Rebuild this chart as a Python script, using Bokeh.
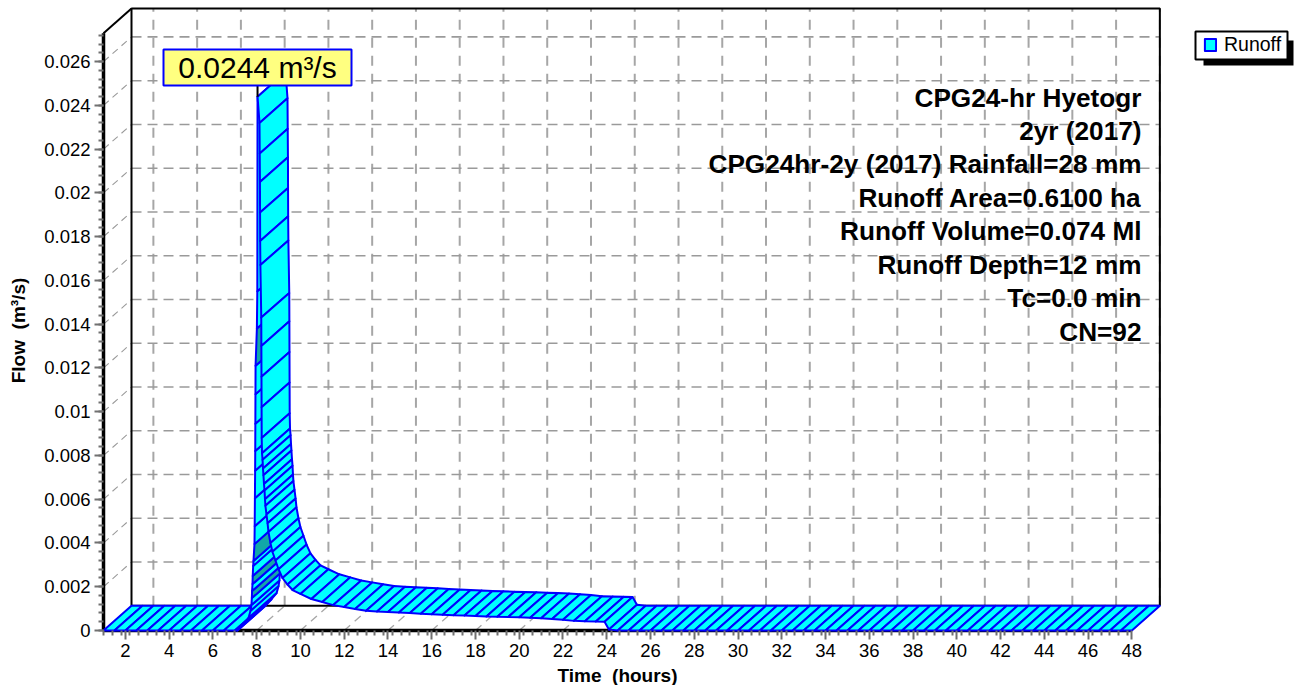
from math import pi
from bokeh.plotting import figure
from bokeh.embed import file_html
from bokeh.resources import INLINE
from bokeh.models import Range1d, FixedTicker, Legend, LegendItem, ColumnDataSource
from bokeh.core.properties import value

# ---------- data ----------
flat_t = [1, 1.5, 2, 2.5, 3, 3.5, 4, 4.5, 5, 5.5, 6, 6.5, 7, 7.12]
flat_q = [0] * len(flat_t)
rise_t = [7.4, 7.63, 7.72, 7.76, 7.78, 7.79, 7.81, 7.82, 7.84, 7.855, 7.9, 7.91, 7.92,
          7.93, 7.935, 7.94, 7.945, 7.95, 8.01, 8.03, 8.04]
rise_q = [.0003, .00058, .0009, .00116, .00148, .0018, .00212, .00249, .00295, .00318, .00395,
          .00477, .00605, .0073, .0082, .00945, .0108, .0121, .0138, .0155, .0244]
# steps of the rising limb that the reference shows in the darker shade (counted from flat end)
rise_dark = [5, 7, 10, 18]
fall_t = [8.13, 8.14, 8.15, 8.155, 8.16, 8.17, 8.21, 8.215, 8.22, 8.225, 8.23, 8.245, 8.27, 8.29,
          8.31, 8.335, 8.36, 8.38, 8.4, 8.45, 8.5, 8.54, 8.63, 8.72, 8.86, 9.0, 9.18, 9.41, 9.64,
          10, 10.5, 11, 11.5, 12, 12.5, 13, 13.5, 14, 14.5, 15, 15.5, 16, 16.5, 17, 17.5, 18,
          18.5, 19, 19.5, 20, 20.5, 21, 21.5, 22, 22.5, 23, 23.5, 23.9, 24.1]
fall_q = [.0232, .0218, .0205, .0191, .0178, .0167, .0143, .013, .0116, .0102, .0088, .0081, .0078,
          .0074, .0071, .0067, .0064, .006, .0057, .0053, .0049, .0045, .004, .0036, .0032, .0028,
          .0024, .0021, .00185, .00167, .00144, .0013, .00116, .00107, .00098, .0009, .00087,
          .00085, .00082, .0008, .00077, .00074, .00072, .0007, .00068, .00066, .00064, .00063,
          .00062, .0006, .00058, .00056, .00053, .00049, .00044, .00042, .00041, .0004, .00005]
end_t = [24.5 + 0.5 * i for i in range(48)]
end_q = [0] * len(end_t)

x_ticks = list(range(2, 49, 2))
y_ticks = [0, .002, .004, .006, .008, .01, .012, .014, .016, .018, .02, .022, .024, .026]
y_tick_labels = ["0", "0.002", "0.004", "0.006", "0.008", "0.01", "0.012", "0.014", "0.016",
                 "0.018", "0.02", "0.022", "0.024", "0.026"]
info_lines = ["CPG24-hr Hyetogr", "2yr (2017)", "CPG24hr-2y (2017) Rainfall=28 mm",
              "Runoff Area=0.6100 ha", "Runoff Volume=0.074 Ml", "Runoff Depth=12 mm",
              "Tc=0.0 min", "CN=92"]
peak_label = "0.0244 m³/s"
series_name = "Runoff"
x_title = "Time\u00a0\u00a0(hours)"
y_title = "Flow\u00a0\u00a0(m³/s)"

# ---------- geometry ----------
W, H = 1294, 685
LEFT, BOTTOM = 103, 55            # front-wall corner on the page
PX_X, PX_Y = 21.88, 21880.0       # px per hour, px per m3/s
DX, DY = 28 / PX_X, 24.7 / PX_Y   # depth offset of the pseudo-3D back wall
T_MAX, Q_TOP = 48, .0273


def tx(px):
    return 1 + (px - LEFT) / PX_X


def qy(py):
    return (H - BOTTOM - py) / PX_Y


p = figure(width=W, height=H, output_backend="svg", toolbar_location=None,
           x_range=Range1d(tx(0), tx(W)), y_range=Range1d(qy(H), qy(0)),
           min_border_left=0, min_border_right=0, min_border_top=0, min_border_bottom=0,
           outline_line_color=None)
p.grid.visible = False
p.background_fill_color = "white"

FONT = "Liberation Sans"
# axes pinned at the front edges of the box
xa, ya = p.xaxis[0], p.yaxis[0]
xa.fixed_location = 0
ya.fixed_location = 1
xa.ticker = FixedTicker(ticks=x_ticks, minor_ticks=[1 + .4 * i for i in range(118) if 1 + .4 * i <= 48])
ya.ticker = FixedTicker(ticks=y_ticks, minor_ticks=[.0004 * i for i in range(69)])
ya.major_label_overrides = dict(zip(y_ticks, y_tick_labels))
for a in (xa, ya):
    a.axis_line_color = None
    a.major_tick_line_color = "#707070"
    a.minor_tick_line_color = "#707070"
    a.major_tick_line_width = 2
    a.minor_tick_line_width = 2
    a.major_tick_in = 0
    a.minor_tick_in = 0
    a.major_tick_out = 9
    a.minor_tick_out = 5
    a.major_label_text_font = FONT
    a.major_label_text_font_size = "18.5px"
    a.major_label_text_color = "black"
xa.major_label_standoff = 4
ya.major_label_standoff = 4

# axis titles (the reference centres them on the front wall)
p.text([tx(617)], [qy(675)], text=[x_title], text_align="center", text_baseline="middle",
       text_font=value(FONT), text_font_style="bold", text_font_size="19px", text_color="black")
p.text([tx(18)], [qy(330)], text=[y_title], angle=pi / 2, text_align="center", text_baseline="middle",
       text_font=value(FONT), text_font_style="bold", text_font_size="19px", text_color="black")

# back-wall grid
GRID = "#a6a6a6"
for t in x_ticks:
    p.line([t + DX, t + DX], [DY, Q_TOP + DY], line_color=GRID, line_width=2, line_dash="10 8")
    p.line([t, t + DX], [0, DY], line_color=GRID, line_width=1.3, line_dash="8 6")
for q in y_ticks[1:]:
    p.line([1 + DX, T_MAX + DX], [q + DY, q + DY], line_color="#9a9a9a", line_width=1.6, line_dash="10 6")
    p.line([1, 1 + DX], [q, q + DY], line_color="#9a9a9a", line_width=1.1, line_dash="7 5")

# frame of the walls
p.line([1 + DX, 1 + DX, T_MAX + DX, T_MAX + DX], [DY, Q_TOP + DY, Q_TOP + DY, DY], line_color="black", line_width=2)
p.line([1, 1 + DX], [Q_TOP, Q_TOP + DY], line_color="black", line_width=2)
p.line([1 + DX, T_MAX + DX], [DY, DY], line_color="black", line_width=2)
p.line([1, T_MAX], [0, 0], line_color="black", line_width=3.5)
p.line([1, 1], [0, Q_TOP], line_color="black", line_width=3.5)

# ribbon, one quad per step
ts = flat_t + rise_t + fall_t + end_t
qs = flat_q + rise_q + fall_q + end_q
dark = {len(flat_t) - 1 + i for i in rise_dark}
xs, ys, cols = [], [], []
for i in range(len(ts) - 1):
    xs.append([ts[i], ts[i + 1], ts[i + 1] + DX, ts[i] + DX])
    ys.append([qs[i], qs[i + 1], qs[i + 1] + DY, qs[i] + DY])
    cols.append("#12a8a8" if i in dark else "#00FFFF")
src = ColumnDataSource(dict(xs=xs, ys=ys, c=cols))
ribbon = p.patches("xs", "ys", source=src, fill_color="c", line_color="#0000FF", line_width=2,
                   line_join="round")

# info text
for i, s in enumerate(info_lines):
    p.text([tx(1141)], [qy(97 + 33.43 * i)], text=[s], text_align="right", text_baseline="middle",
           text_font=value(FONT), text_font_style="bold", text_font_size="26.2px", text_color="black")

# peak callout
pk = qs[ts.index(8.04)]
p.line([8.04, 8.04], [pk, qy(84)], line_color="black", line_width=2)
p.quad(left=[tx(163)], right=[tx(351)], bottom=[qy(85)], top=[qy(49)], fill_color="#FFFF80",
       line_color="#0000FF", line_width=2)
p.text([tx(257)], [qy(67)], text=[peak_label], text_align="center", text_baseline="middle",
       text_font=value(FONT), text_font_size="30px", text_color="black")

# legend with its shadow and box
p.quad(left=[tx(1203)], right=[tx(1293)], bottom=[qy(65)], top=[qy(40)], fill_color="black", line_color=None)
p.quad(left=[tx(1195)], right=[tx(1287)], bottom=[qy(59)], top=[qy(31)], fill_color="white",
       line_color="black", line_width=2)
leg = Legend(items=[LegendItem(label=series_name, renderers=[ribbon], index=0)],
             location=(1203, H - 56), orientation="vertical",
             border_line_color=None, background_fill_alpha=0, margin=0, padding=6, spacing=0,
             glyph_width=14, glyph_height=15, label_standoff=7, label_text_font=FONT,
             label_text_font_size="19.5px", label_text_color="black", label_height=16)
p.add_layout(leg, "center")

open("out.html", "w").write(file_html(p, INLINE))
